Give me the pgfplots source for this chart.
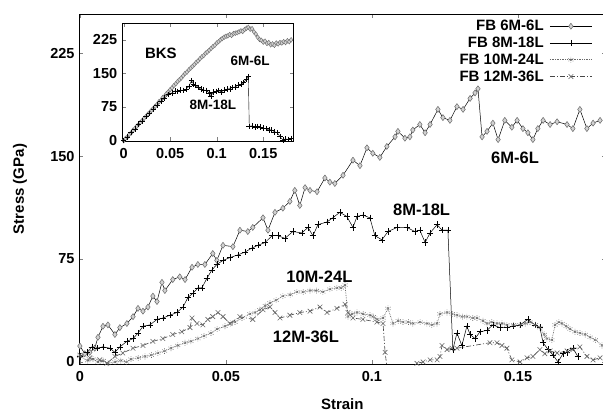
\documentclass[border=0pt]{standalone}
\usepackage{fontspec}
\setmainfont{Liberation Sans}
\usepackage{pgfplots}
\pgfplotsset{compat=1.18}
\definecolor{mgray}{RGB}{105,105,105}
\definecolor{dgray}{RGB}{70,70,70}
\definecolor{lgray}{RGB}{210,210,210}
\begin{document}
\begin{tikzpicture}[x=1pt,y=1pt]
\useasboundingbox (0,0) rectangle (603,410);
\begin{axis}[
  at={(79pt,46pt)}, anchor=south west,
  width=526.6pt, height=350pt, scale only axis,
  xmin=-0.0003, xmax=0.18, ymin=-1.5, ymax=253.5,
  xtick={0,0.05,0.1,0.15}, xticklabels={0,0.05,0.1,0.15},
  ytick={0,75,150,225}, yticklabels={0,75,150,225},
  tick align=inside, major tick length=4pt,
  axis line style={line width=0.8pt},
  tick label style={font=\fontsize{14.5}{14.5}\selectfont\bfseries},
  xticklabel style={yshift=-4pt},
  yticklabel style={xshift=-1pt},
  xlabel={Strain}, ylabel={Stress (GPa)},
  label style={font=\fontsize{15}{15}\selectfont\bfseries},
  xlabel style={at={(axis description cs:0.5,-0.13)}, anchor=base},
  ylabel style={at={(axis description cs:-0.112,0.5)}, anchor=center},
  legend style={at={(0.975,0.985)}, anchor=north east, draw=none, fill=none,
    font=\fontsize{15}{15}\selectfont\bfseries, row sep=3.2pt, column sep=5pt, inner sep=0pt,
    nodes={inner sep=0.8pt}},
  legend cell align=right, legend plot pos=right,
  legend image code/.code={\draw[mark repeat=2,mark phase=2,#1] plot coordinates {(0pt,0pt) (21pt,0pt) (42pt,0pt)};},
]
% 6M-6L
\addplot[black, line width=0.5pt, mark=diamond*, mark size=3pt,
  mark options={draw=mgray, fill=lgray, solid}] coordinates {
(0,11.6) (0.0017,6) (0.0034,7) (0.0051,10) (0.0062,18) (0.0079,26) (0.0096,27)
(0.0120,20) (0.0137,25) (0.0161,28) (0.0182,33) (0.0199,39) (0.0216,37) (0.0233,40)
(0.0250,48) (0.0264,44) (0.0281,58) (0.0291,52) (0.0318,60) (0.0342,62) (0.0360,60)
(0.0384,69) (0.0404,71) (0.0428,71) (0.0455,79) (0.0469,74) (0.0490,85) (0.0524,84)
(0.0548,96) (0.0575,95) (0.0592,98) (0.0627,105) (0.0644,96) (0.0668,109) (0.0695,112)
(0.0719,117) (0.0736,125) (0.0753,114) (0.0771,127) (0.0788,125) (0.0812,124) (0.0839,134)
(0.0856,131) (0.0873,130) (0.0901,136) (0.0935,147) (0.0959,143) (0.0983,156) (0.1003,152)
(0.1027,149) (0.1051,157) (0.1079,164) (0.1089,168) (0.1113,163) (0.1130,164) (0.1140,169)
(0.1164,173) (0.1182,167) (0.1199,173) (0.1226,184) (0.1243,178) (0.1267,176) (0.1291,186)
(0.1312,184) (0.1336,192) (0.1353,196) (0.1363,199) (0.1377,164) (0.1394,168) (0.1414,174)
(0.1432,162) (0.1455,176) (0.1479,171) (0.1497,176) (0.1517,170) (0.1534,167) (0.1551,162)
(0.1568,170) (0.1586,176) (0.1610,173) (0.1634,175) (0.1668,173) (0.1688,170) (0.1712,184)
(0.1736,170) (0.1757,174) (0.1781,176)
};
\addlegendentry{FB 6M-6L}
% 8M-18L
\addplot[black, line width=0.5pt, mark=+, mark size=3.2pt, mark options={solid}] coordinates {
(0,4) (0.0024,7) (0.0041,11) (0.0058,10) (0.0079,11) (0.0103,10) (0.0120,7) (0.0137,11)
(0.0161,15) (0.0182,17) (0.0199,21) (0.0216,26) (0.0240,27) (0.0264,31) (0.0284,32)
(0.0308,34) (0.0332,36) (0.0353,40) (0.0370,47) (0.0387,50) (0.0404,54) (0.0418,54)
(0.0435,61) (0.0452,67) (0.0469,71) (0.0490,74) (0.0514,76) (0.0541,78) (0.0565,80)
(0.0589,83) (0.0610,85) (0.0634,87) (0.0658,92) (0.0678,92) (0.0702,90) (0.0729,95)
(0.0760,94) (0.0781,98) (0.0798,92) (0.0815,100) (0.0846,102) (0.0866,105) (0.0890,109)
(0.0914,106) (0.0935,98) (0.0949,106) (0.0969,107) (0.0993,105) (0.1010,92) (0.1034,89)
(0.1055,95) (0.1086,98) (0.1120,98) (0.1147,95) (0.1164,96) (0.1182,87) (0.1199,94)
(0.1223,100) (0.1240,96) (0.1260,96) (0.1277,9) (0.1291,21) (0.1308,12) (0.1325,26)
(0.1336,20) (0.1353,17) (0.1370,22) (0.1394,23) (0.1414,27) (0.1438,25) (0.1462,25)
(0.1483,26) (0.1507,27) (0.1534,31) (0.1558,27) (0.1575,25) (0.1586,14) (0.1603,9)
(0.1620,5) (0.1637,0) (0.1654,6) (0.1668,7) (0.1688,10) (0.1705,4)
};
\addlegendentry{FB 8M-18L}
% 10M-24L
\addplot[mgray, line width=0.7pt, densely dotted, mark=asterisk, mark size=2.8pt] coordinates {
(0,4) (0.0027,1) (0.0045,2) (0.0062,0) (0.0080,1) (0.0096,-1) (0.0120,0) (0.0140,1) (0.0160,0)
(0.0175,2) (0.0200,3) (0.0223,4) (0.0245,5) (0.0267,6.5) (0.0290,8) (0.0312,10) (0.0335,12)
(0.0360,14) (0.0380,15) (0.0404,17) (0.0425,19) (0.0449,21) (0.0470,24) (0.0497,26)
(0.0515,28) (0.0531,29) (0.0555,32) (0.0582,35) (0.0600,36) (0.0616,38) (0.0635,41)
(0.0651,43) (0.0672,45) (0.0695,48) (0.0720,49) (0.0743,51) (0.0765,51) (0.0788,52)
(0.0810,52) (0.0832,51) (0.0856,53) (0.0880,54) (0.0895,54) (0.0908,56) (0.0918,33)
(0.0932,35) (0.0949,36) (0.0970,35) (0.0993,34) (0.1005,33) (0.1017,31) (0.1038,32)
(0.1055,39) (0.1072,28) (0.1090,30) (0.1106,29) (0.1125,29) (0.1140,28) (0.1165,29)
(0.1188,28) (0.1205,27) (0.1223,28) (0.1233,35) (0.1257,36) (0.1275,35) (0.1291,34)
(0.1310,33) (0.1325,33) (0.1345,32) (0.1360,32) (0.1380,30) (0.1394,28) (0.1410,29)
(0.1428,28) (0.1445,28) (0.1462,27) (0.1485,27) (0.1507,27) (0.1525,28) (0.1541,29)
(0.1560,27) (0.1575,25) (0.1590,20) (0.1599,17) (0.1616,16) (0.1627,27) (0.1640,29)
(0.1651,28) (0.1665,26) (0.1678,24) (0.1695,22) (0.1712,21) (0.1730,20) (0.1747,18)
(0.1765,16) (0.1788,12)
};
\addlegendentry{FB 10M-24L}
% 12M-36L
\addplot[dgray, line width=0.6pt, dash pattern=on 5pt off 2pt on 1pt off 2pt, mark=x, mark size=3.3pt,
  mark options={solid, draw=mgray}] coordinates {
(0,5) (0.0034,3) (0.0068,1.5) (0.0092,-1) (0.0120,4) (0.0147,6.5) (0.0182,10) (0.0216,12)
(0.0250,15) (0.0284,17) (0.0318,20) (0.0349,22) (0.0377,25) (0.0384,32) (0.0401,28)
(0.0421,27) (0.0438,31) (0.0455,33) (0.0473,36) (0.0490,33) (0.0514,28) (0.0548,33)
(0.0592,31) (0.0627,38) (0.0651,40) (0.0668,36) (0.0685,32) (0.0719,34) (0.0753,36)
(0.0788,37) (0.0822,40) (0.0846,36) (0.0880,39) (0.0908,42) (0.0918,36) (0.0935,32)
(0.0969,31) (0.1017,29) (0.1038,28) (0.1045,7) (0.1051,-3) (0.1079,-8) (0.1130,-8)
(0.1154,-1) (0.1175,0) (0.1199,1.5) (0.1223,1.5) (0.1233,4) (0.1240,12) (0.1257,9)
(0.1274,10) (0.1291,10) (0.1404,14) (0.1428,14) (0.1445,12) (0.1462,10) (0.1479,1.5)
(0.1507,0) (0.1531,3) (0.1551,4) (0.1575,9) (0.1592,6) (0.1610,8) (0.1634,6.5)
(0.1668,8) (0.1688,9) (0.1712,11) (0.1736,4) (0.1757,1.5) (0.1781,3)
};
\addlegendentry{FB 12M-36L}
\node[font=\fontsize{16.5}{16.5}\selectfont\bfseries] at (axis cs:0.149,149) {6M-6L};
\node[font=\fontsize{16.5}{16.5}\selectfont\bfseries] at (axis cs:0.117,111) {8M-18L};
\node[font=\fontsize{16.5}{16.5}\selectfont\bfseries] at (axis cs:0.082,62) {10M-24L};
\node[font=\fontsize{16.5}{16.5}\selectfont\bfseries] at (axis cs:0.0774,18) {12M-36L};
\end{axis}
% inset
\begin{axis}[
  at={(122.7pt,269pt)}, anchor=south west,
  width=170.3pt, height=117.7pt, scale only axis,
  xmin=-0.001, xmax=0.182, ymin=-0.7, ymax=262,
  xtick={0,0.05,0.1,0.15}, xticklabels={0,0.05,0.1,0.15},
  ytick={0,75,150,225}, yticklabels={0,75,150,225},
  tick align=inside, major tick length=3.5pt,
  axis line style={line width=0.8pt},
  tick label style={font=\fontsize{14.5}{14.5}\selectfont\bfseries},
  xticklabel style={yshift=-4pt},
  yticklabel style={xshift=-2pt},
]
\addplot[black, line width=0.4pt, mark=diamond*, mark size=2.4pt,
  mark options={draw=mgray, fill=lgray, solid}] coordinates {
(0,0) (0.002,5) (0.004,8) (0.006,14) (0.008,17) (0.010,23) (0.012,27) (0.014,32) (0.016,36)
(0.018,41) (0.020,45) (0.022,50) (0.024,54) (0.026,59) (0.028,63) (0.030,68) (0.032,72)
(0.034,77) (0.036,81) (0.038,87) (0.040,90) (0.042,96) (0.044,99) (0.046,105) (0.048,109)
(0.050,114) (0.052,118) (0.054,123) (0.056,127) (0.058,132) (0.060,136) (0.062,140)
(0.064,145) (0.066,150) (0.068,153) (0.070,158) (0.072,162) (0.074,166) (0.076,170)
(0.078,175) (0.080,178) (0.082,183) (0.084,187) (0.086,190) (0.088,195) (0.090,198)
(0.092,202) (0.094,206) (0.096,210) (0.098,213) (0.100,218) (0.102,221) (0.104,225)
(0.106,228) (0.108,231) (0.110,233) (0.112,234) (0.114,237) (0.116,235) (0.118,239)
(0.120,240) (0.122,241) (0.124,243) (0.126,245) (0.128,244) (0.130,248) (0.132,251)
(0.134,253) (0.136,249) (0.138,250) (0.140,243) (0.142,238) (0.144,231) (0.146,226)
(0.148,224) (0.150,220) (0.152,222) (0.154,217) (0.156,219) (0.158,214) (0.160,216)
(0.162,213) (0.164,218) (0.166,216) (0.168,219) (0.170,218) (0.172,221) (0.174,219)
(0.176,223) (0.178,221) (0.180,225)
};
\addplot[black, line width=0.4pt, mark=+, mark size=2.8pt, mark options={solid}] coordinates {
(0,0) (0.004,8) (0.008,18) (0.012,26) (0.016,37) (0.020,44) (0.024,54) (0.028,61) (0.032,71)
(0.036,79) (0.040,88) (0.044,95) (0.048,103) (0.052,107) (0.055,111) (0.058,110)
(0.061,113) (0.064,112) (0.067,115) (0.070,121) (0.073,134) (0.075,127) (0.077,124)
(0.080,119) (0.083,115) (0.086,113) (0.089,112) (0.092,106) (0.094,99) (0.096,108)
(0.099,110) (0.102,112) (0.105,109) (0.108,113) (0.111,115) (0.114,116) (0.117,119)
(0.120,120) (0.123,124) (0.126,126) (0.129,130) (0.132,137) (0.134,143) (0.135,32)
(0.138,33) (0.141,30) (0.144,32) (0.147,30) (0.150,28) (0.153,27) (0.156,24) (0.159,24)
(0.162,20) (0.165,18) (0.168,9) (0.171,2) (0.174,4) (0.177,3) (0.180,5)
};
\node[font=\fontsize{15}{15}\selectfont\bfseries] at (axis cs:0.040,196) {BKS};
\node[font=\fontsize{13.5}{13.5}\selectfont\bfseries] at (axis cs:0.136,178) {6M-6L};
\node[font=\fontsize{13.5}{13.5}\selectfont\bfseries] at (axis cs:0.096,80) {8M-18L};
\end{axis}
\end{tikzpicture}
\end{document}
